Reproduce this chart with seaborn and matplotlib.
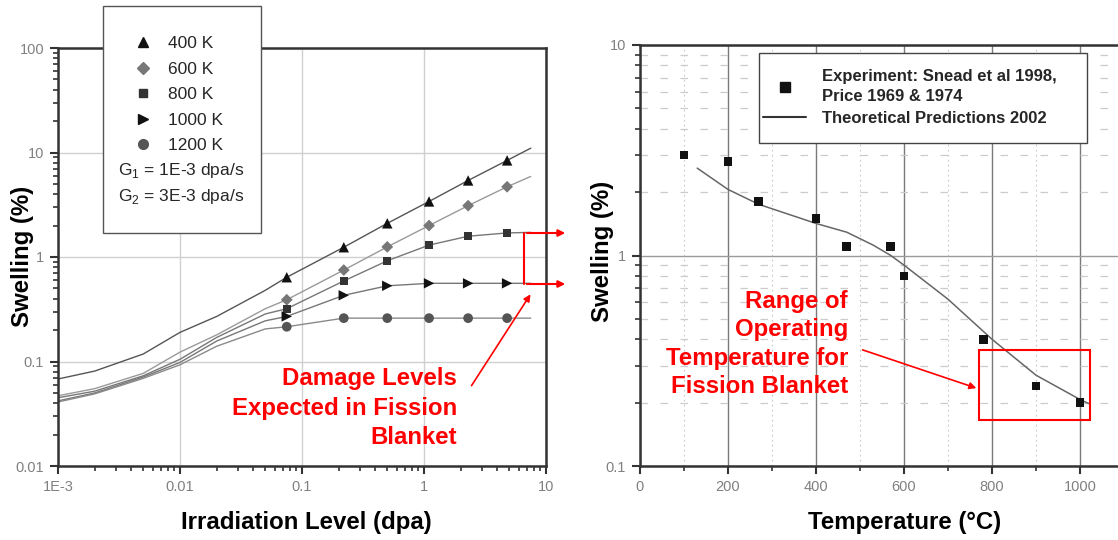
import numpy as np
import pandas as pd
import matplotlib
matplotlib.use("Agg")
import matplotlib.pyplot as plt
import seaborn as sns
from matplotlib.lines import Line2D
from matplotlib.patches import Rectangle, FancyArrowPatch
from matplotlib.ticker import LogLocator, FixedLocator, FixedFormatter, NullFormatter, MultipleLocator

# ---------------- data: left panel (swelling vs irradiation) ----------------
temps_k = ["400 K", "600 K", "800 K", "1000 K", "1200 K"]
dose_curve = [0.001, 0.002, 0.005, 0.01, 0.02, 0.05, 0.075, 0.22, 0.5, 1.1, 2.3, 4.8, 7.5]
swell_400 = [0.068, 0.081, 0.118, 0.19, 0.27, 0.48, 0.64, 1.24, 2.1, 3.4, 5.4, 8.4, 11.0]
swell_600 = [0.047, 0.055, 0.077, 0.123, 0.18, 0.32, 0.39, 0.75, 1.25, 2.0, 3.1, 4.7, 5.9]
swell_800 = [0.045, 0.052, 0.073, 0.105, 0.17, 0.285, 0.32, 0.59, 0.92, 1.3, 1.58, 1.7, 1.72]
swell_1000 = [0.042, 0.050, 0.071, 0.098, 0.157, 0.245, 0.27, 0.43, 0.53, 0.56, 0.56, 0.56, 0.56]
swell_1200 = [0.041, 0.049, 0.069, 0.093, 0.14, 0.205, 0.215, 0.26, 0.26, 0.26, 0.26, 0.26, 0.26]
marker_dose = [0.075, 0.22, 0.5, 1.1, 2.3, 4.8]
x_ticks_left = [1e-3, 1e-2, 1e-1, 1, 10]
x_ticklabels_left = ["1E-3", "0.01", "0.1", "1", "10"]
y_ticks_left = [0.01, 0.1, 1, 10, 100]
y_ticklabels_left = ["0.01", "0.1", "1", "10", "100"]

# ---------------- data: right panel (swelling vs temperature) ----------------
exp_temp = [100, 200, 270, 400, 470, 570, 600, 780, 900, 1000]
exp_swell = [3.0, 2.8, 1.8, 1.5, 1.1, 1.1, 0.8, 0.4, 0.24, 0.2]
theo_temp = [130, 200, 270, 400, 470, 530, 570, 600, 700, 800, 900, 1000, 1020]
theo_swell = [2.6, 2.06, 1.75, 1.42, 1.29, 1.12, 1.0, 0.9, 0.62, 0.40, 0.27, 0.207, 0.198]
x_ticks_right = [0, 200, 400, 600, 800, 1000]
y_ticks_right = [0.1, 1, 10]
y_ticklabels_right = ["0.1", "1", "10"]

sns.set_theme(style="white")
plt.rcParams["font.family"] = ["Liberation Sans", "DejaVu Sans"]
narrow = ["Liberation Sans Narrow", "Liberation Sans", "DejaVu Sans"]

W, H = 1118, 540
fig = plt.figure(figsize=(W / 100, H / 100), dpi=100)

def fx(px):
    return px / W

def fy(py):
    return 1 - py / H

LABEL_FS = 17.3
TICK_FS = 10.5

# ---------------- left axes ----------------
axL = fig.add_axes([fx(58), fy(466), fx(546) - fx(58), fy(48) - fy(466)])
series = [swell_400, swell_600, swell_800, swell_1000, swell_1200]
rows = []
for t, s in zip(temps_k, series):
    for d, v in zip(dose_curve, s):
        rows.append({"T": t, "dose": d, "swell": v})
curves = pd.DataFrame(rows)
mrows = []
for t, s in zip(temps_k, series):
    lookup = dict(zip(dose_curve, s))
    for d in marker_dose:
        mrows.append({"T": t, "dose": d, "swell": lookup[d]})
marks = pd.DataFrame(mrows)

line_colors = {"400 K": "#555555", "600 K": "#9a9a9a", "800 K": "#777777",
               "1000 K": "#777777", "1200 K": "#8a8a8a"}
marker_colors = {"400 K": "#111111", "600 K": "#777777", "800 K": "#333333",
                 "1000 K": "#111111", "1200 K": "#555555"}
marker_shapes = {"400 K": "^", "600 K": "D", "800 K": "s", "1000 K": ">", "1200 K": "o"}
marker_sizes = {"400 K": 7.5, "600 K": 6, "800 K": 6, "1000 K": 7.5, "1200 K": 7}

sns.lineplot(data=curves, x="dose", y="swell", hue="T", palette=line_colors,
             legend=False, ax=axL, linewidth=1.0, sort=True)
for t in temps_k:
    sub = marks[marks["T"] == t]
    sns.scatterplot(data=sub, x="dose", y="swell", ax=axL, marker=marker_shapes[t],
                    color=marker_colors[t], s=marker_sizes[t] ** 2, edgecolor="none",
                    legend=False, zorder=3)

axL.set_xscale("log")
axL.set_yscale("log")
axL.set_xlim(1e-3, 10)
axL.set_ylim(0.01, 100)
axL.xaxis.set_major_locator(FixedLocator(x_ticks_left))
axL.xaxis.set_major_formatter(FixedFormatter(x_ticklabels_left))
axL.yaxis.set_major_locator(FixedLocator(y_ticks_left))
axL.yaxis.set_major_formatter(FixedFormatter(y_ticklabels_left))
axL.xaxis.set_minor_locator(LogLocator(base=10, subs=np.arange(2, 10)))
axL.yaxis.set_minor_locator(LogLocator(base=10, subs=np.arange(2, 10)))
axL.xaxis.set_minor_formatter(NullFormatter())
axL.yaxis.set_minor_formatter(NullFormatter())
axL.grid(True, which="major", color="#d0d0d0", linewidth=1.0)

def style_ticks(ax):
    ax.tick_params(which="major", direction="out", length=6, width=1.5, color="#333333",
                   labelsize=TICK_FS, labelcolor="#808080", bottom=True, left=True, pad=4)
    ax.tick_params(which="minor", direction="out", length=3.5, width=1.2, color="#333333",
                   bottom=True, left=True)
    for lab in ax.get_xticklabels() + ax.get_yticklabels():
        lab.set_family(narrow)

style_ticks(axL)
for sp in axL.spines.values():
    sp.set_color("#333333")
    sp.set_linewidth(1.8)
axL.set_xlabel("Irradiation Level (dpa)", fontsize=LABEL_FS, fontweight="bold", color="black")
axL.set_ylabel("Swelling (%)", fontsize=LABEL_FS, fontweight="bold", color="black")
axL.xaxis.set_label_coords((306 - 58) / 488, (466 - 522) / 418)
axL.xaxis.label.set_va("center")
axL.yaxis.set_label_coords((23 - 58) / 488, (466 - 256) / 418)
axL.yaxis.label.set_va("center")

# ---------------- right axes ----------------
axR = fig.add_axes([fx(640), fy(466), (1090 * 0.44) / W, fy(45) - fy(466)])
exp_df = pd.DataFrame({"temp": exp_temp, "swell": exp_swell})
theo_df = pd.DataFrame({"temp": theo_temp, "swell": theo_swell})
sns.lineplot(data=theo_df, x="temp", y="swell", ax=axR, color="#666666", linewidth=1.1)
sns.scatterplot(data=exp_df, x="temp", y="swell", ax=axR, marker="s", color="#111111",
                s=40, edgecolor="none", zorder=3)
axR.set_yscale("log")
axR.set_xlim(0, 1090)
axR.set_ylim(0.1, 10)
axR.xaxis.set_major_locator(FixedLocator(x_ticks_right))
axR.xaxis.set_minor_locator(MultipleLocator(100))
axR.yaxis.set_major_locator(FixedLocator(y_ticks_right))
axR.yaxis.set_major_formatter(FixedFormatter(y_ticklabels_right))
axR.yaxis.set_minor_locator(LogLocator(base=10, subs=np.arange(2, 10)))
axR.yaxis.set_minor_formatter(NullFormatter())
axR.grid(True, which="major", axis="x", color="#7a7a7a", linewidth=1.0)
axR.grid(True, which="major", axis="y", color="#9a9a9a", linewidth=1.0)
axR.grid(True, which="minor", axis="x", color="#c8c8c8", linewidth=0.8, linestyle=(0, (1.5, 3)))
axR.grid(True, which="minor", axis="y", color="#cccccc", linewidth=0.9, linestyle=(0, (6, 10)))
style_ticks(axR)
for name, sp in axR.spines.items():
    sp.set_color("#333333")
    sp.set_linewidth(1.8)
axR.spines["right"].set_visible(False)
axR.set_xlabel("Temperature (°C)", fontsize=LABEL_FS, fontweight="bold", color="black")
axR.set_ylabel("Swelling (%)", fontsize=LABEL_FS, fontweight="bold", color="black")
axR.xaxis.set_label_coords((905 - 640) / 479.6, (466 - 522) / 421)
axR.xaxis.label.set_va("center")
axR.yaxis.set_label_coords((602 - 640) / 479.6, (466 - 251) / 421)
axR.yaxis.label.set_va("center")

# right legend (box drawn separately)
axR.add_patch(Rectangle((fx(759), fy(143)), fx(1087) - fx(759), fy(53) - fy(143),
                        transform=fig.transFigure, facecolor="white", edgecolor="#444444",
                        linewidth=1.0, zorder=5))
hR = [Line2D([], [], marker="s", linestyle="none", color="#111111", markersize=7),
      Line2D([], [], color="#333333", linewidth=1.5)]
legR = axR.legend(hR, ["Experiment: Snead et al 1998,\nPrice 1969 & 1974", "Theoretical Predictions 2002"],
                  loc="upper left", bbox_to_anchor=(fx(763), fy(69)), bbox_transform=fig.transFigure,
                  frameon=False, prop={"weight": "bold", "size": 12}, handlelength=2.6,
                  handletextpad=0.95, labelspacing=0.45, borderpad=0, borderaxespad=0)
legR.get_texts()[0].set_linespacing(1.4)
legR.set_zorder(6)

# left legend box
fig.add_artist(Rectangle((fx(103), fy(233)), fx(261) - fx(103), fy(6) - fy(233),
                         transform=fig.transFigure, facecolor="white", edgecolor="#555555",
                         linewidth=1.0, zorder=3))
hL = [Line2D([], [], marker=marker_shapes[t], linestyle="none", color=marker_colors[t],
             markersize=marker_sizes[t]) for t in temps_k]
legL = fig.legend(hL, temps_k, loc="upper left", bbox_to_anchor=(fx(134), fy(36)),
                  frameon=False, prop={"size": 12.5}, handlelength=1.0, handletextpad=0.96,
                  labelspacing=0.6, borderpad=0, borderaxespad=0)
legL.set_zorder(4)
fig.text(fx(118), fy(171), "G$_{\\mathregular{1}}$ = 1E-3 dpa/s", fontsize=12.5, va="center",
         ha="left", zorder=5)
fig.text(fx(118), fy(197), "G$_{\\mathregular{2}}$ = 3E-3 dpa/s", fontsize=12.5, va="center",
         ha="left", zorder=5)

# ---------------- red annotations ----------------
red = "#ff0000"
fig.text(fx(457), fy(408), "Damage Levels\nExpected in Fission\nBlanket", color=red,
         fontsize=17.3, fontweight="bold", ha="right", va="center", linespacing=1.34)
fig.add_artist(FancyArrowPatch((fx(470), fy(388)), (fx(532), fy(292)), transform=fig.transFigure,
                               arrowstyle="-|>", mutation_scale=10, color=red, linewidth=1.2))
fig.add_artist(Line2D([fx(524), fx(524)], [fy(233), fy(284)], transform=fig.transFigure,
                      color=red, linewidth=1.5))
for yy in (233, 284):
    fig.add_artist(FancyArrowPatch((fx(524), fy(yy)), (fx(568), fy(yy)), transform=fig.transFigure,
                                   arrowstyle="-|>", mutation_scale=10, color=red, linewidth=1.5))

fig.text(fx(848), fy(344), "Range of\nOperating\nTemperature for\nFission Blanket", color=red,
         fontsize=17.3, fontweight="bold", ha="right", va="center", linespacing=1.31)
fig.add_artist(FancyArrowPatch((fx(860), fy(349)), (fx(979), fy(389)), transform=fig.transFigure,
                               arrowstyle="-|>", mutation_scale=10, color=red, linewidth=1.2))
axR.add_patch(Rectangle((770, 0.166), 1023 - 770, 0.357 - 0.166, fill=False,
                        edgecolor=red, linewidth=1.5, zorder=4))

fig.savefig("out.png", dpi=100)
